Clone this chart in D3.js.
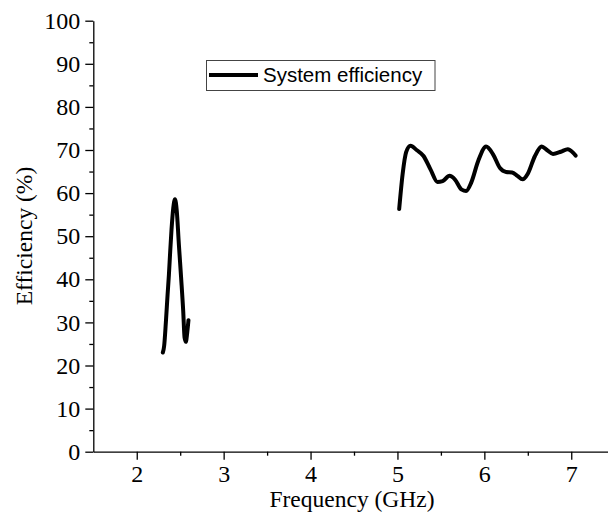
<!DOCTYPE html>
<meta charset="utf-8">
<style>
body { margin: 0; background: #fff; }
.axis text { font-family: "Liberation Serif", "Times New Roman", serif; font-size: 24px; fill: #000; }
.axis path, .axis line { stroke: #000; stroke-width: 1.3px; }
.title { font-family: "Liberation Serif", "Times New Roman", serif; font-size: 23.5px; fill: #000; }
.curve { fill: none; stroke: #000; stroke-width: 4px; stroke-linejoin: round; stroke-linecap: round; }
</style>
<body>
<svg width="608" height="512"></svg>
<script src="https://d3js.org/d3.v7.min.js"></script>
<script>

// 2.4 GHz band
var freqLow = [2.30, 2.315, 2.335, 2.355, 2.37, 2.385, 2.40, 2.42, 2.44, 2.46, 2.485, 2.51, 2.535, 2.55, 2.565, 2.58, 2.595];
var effLow  = [23.0, 24.5, 30.0, 36.5, 41.0, 46.5, 51.5, 56.5, 58.6, 56.0, 48.0, 40.5, 32.5, 26.5, 25.5, 27.5, 30.5];

// 5-7 GHz band
var freqHigh = [5.02, 5.06, 5.10, 5.15, 5.22, 5.30, 5.38, 5.46, 5.52, 5.60, 5.66, 5.74, 5.79, 5.85, 5.93, 6.02, 6.10, 6.18, 6.25, 6.32, 6.38, 6.44, 6.50, 6.58, 6.66, 6.72, 6.79, 6.88, 6.96, 7.02, 7.05];
var effHigh  = [56.3, 64.5, 69.5, 71.0, 70.0, 68.6, 65.5, 62.6, 62.8, 64.0, 63.2, 60.8, 60.5, 62.5, 67.5, 70.8, 69.0, 65.8, 64.9, 64.8, 64.0, 63.2, 64.5, 68.5, 70.8, 70.0, 69.1, 69.6, 70.2, 69.4, 68.7];

var xTicks = [2, 3, 4, 5, 6, 7];
var yTicks = [0, 10, 20, 30, 40, 50, 60, 70, 80, 90, 100];
var legendLabel = "System efficiency";

var svg = d3.select("svg"),
    plotLeft = 93.3, plotTop = 20.7, plotBottom = 451.7;

var x = d3.scaleLinear().domain([1.5, 7.5]).range([plotLeft, plotLeft + 6 * 86.9]);
var y = d3.scaleLinear().domain([0, 100]).range([plotBottom, plotTop]);

// minor ticks
svg.append("g").attr("class", "axis")
    .attr("transform", "translate(0," + plotBottom + ")")
    .call(d3.axisBottom(x).tickValues([2.5, 3.5, 4.5, 5.5, 6.5]).tickSize(4).tickFormat(""))
    .select(".domain").remove();
svg.append("g").attr("class", "axis")
    .attr("transform", "translate(" + plotLeft + ",0)")
    .call(d3.axisLeft(y).tickValues(d3.range(5, 100, 10)).tickSize(4).tickFormat(""))
    .select(".domain").remove();

// major ticks
svg.append("g").attr("class", "axis")
    .attr("transform", "translate(0," + plotBottom + ")")
    .call(d3.axisBottom(x).tickValues(xTicks).tickSize(8).tickSizeOuter(0).tickPadding(5).tickFormat(d3.format("d")));
svg.append("g").attr("class", "axis")
    .attr("transform", "translate(" + plotLeft + ",0)")
    .call(d3.axisLeft(y).tickValues(yTicks).tickSize(8).tickSizeOuter(0).tickPadding(5).tickFormat(d3.format("d")));

svg.append("text").attr("class", "title")
    .attr("x", 352).attr("y", 507)
    .attr("text-anchor", "middle")
    .text("Frequency (GHz)");
svg.append("text").attr("class", "title")
    .attr("transform", "translate(32,236) rotate(-90)")
    .attr("text-anchor", "middle")
    .text("Efficiency (%)");

var line = d3.line()
    .x(d => x(d[0]))
    .y(d => y(d[1]))
    .curve(d3.curveMonotoneX);

svg.append("path").attr("class", "curve")
    .attr("d", line(d3.zip(freqLow, effLow)));
svg.append("path").attr("class", "curve")
    .attr("d", line(d3.zip(freqHigh, effHigh)));

// legend
var lg = svg.append("g");
lg.append("rect")
    .attr("x", 206.5).attr("y", 60.5).attr("width", 228.5).attr("height", 30)
    .attr("fill", "#fff").attr("stroke", "#444").attr("stroke-width", 1);
lg.append("line")
    .attr("x1", 209).attr("x2", 258).attr("y1", 75).attr("y2", 75)
    .attr("stroke", "#000").attr("stroke-width", 4);
lg.append("text")
    .attr("x", 263).attr("y", 81.5)
    .style("font-family", "'Liberation Sans', Arial, sans-serif")
    .style("font-size", "20.5px")
    .text(legendLabel);

</script>
</body>
